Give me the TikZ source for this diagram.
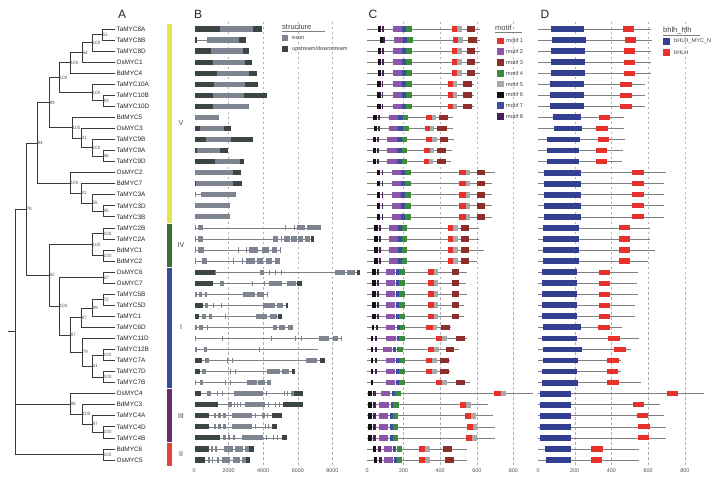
\documentclass[tikz,border=0pt]{standalone}
\usepackage{fontspec}
\setmainfont{Liberation Sans}
\usetikzlibrary{calc}
\definecolor{treeline}{HTML}{3A3A3A}
\definecolor{exongray}{HTML}{7E8590}
\definecolor{utrdark}{HTML}{3B4542}
\definecolor{mot1}{HTML}{E8312B}
\definecolor{mot2}{HTML}{8B56A9}
\definecolor{mot3}{HTML}{8C2E2B}
\definecolor{mot4}{HTML}{3D8B3E}
\definecolor{mot5}{HTML}{A9A9A9}
\definecolor{mot6}{HTML}{121212}
\definecolor{mot7}{HTML}{3C4EA0}
\definecolor{mot8}{HTML}{4A1F5B}
\definecolor{mycn}{HTML}{33408F}
\definecolor{cladeV}{HTML}{E4E649}
\definecolor{cladeIV}{HTML}{3F6C37}
\definecolor{cladeI}{HTML}{3B4B98}
\definecolor{cladeIII}{HTML}{6A2C6B}
\definecolor{cladeII}{HTML}{E2433A}
\newcommand{\rowy}[1]{\pgfmathsetmacro{\ry}{29+(#1-1)*11.05}}
\newcommand{\clade}[5]{%
    \path ($(#3)!0.5!(#4)$) coordinate (#1m);
    \coordinate (#1) at (#2,0 |- #1m);
    \draw[branch] (#3) -- (#1 |- #3) -- (#1 |- #4) -- (#4);
    \node[boot] (#1b) at (#1) {#5};
}
\newcommand{\gene}[4]{%
    \rowy{#1}
    \draw[intron] (#2,\ry) -- (#3,\ry);
    \foreach \ga/\gb/\gt in {#4} {\fill[\gt] (\ga,\ry-2.6) rectangle (\gb,\ry+2.6);}
}
\newcommand{\prot}[4]{%
    \rowy{#1}
    \begin{scope}[shift={(367,\ry)}, xscale=0.183]
        \draw[backbone] (0,0) -- (#2,0);
        \foreach \mk/\ma/\mb in {#3} {\fill[fill=mot\mk] (\ma,-2.8) rectangle (\mb,2.8);}
    \end{scope}
    \begin{scope}[shift={(538,\ry)}, xscale=0.1835]
        \draw[backbone] (0,0) -- (#2,0);
        \foreach \da/\db/\dc/\dd in {#4} {
            \fill[mycn] (\da,-2.9) rectangle (\db,2.9);
            \fill[mot1] (\dc,-2.6) rectangle (\dd,2.6);
        }
    \end{scope}
}
\begin{document}
\begin{tikzpicture}[x=1pt, y=-1pt,
        leaf/.style={anchor=west, inner sep=0.4pt, font=\fontsize{6.4}{7.6}\selectfont, text=black!85},
        boot/.style={anchor=west, inner sep=0.4pt, font=\fontsize{4.7}{5.5}\selectfont, text=black!65},
        branch/.style={treeline, line width=0.7pt},
        panel/.style={font=\fontsize{12}{14}\selectfont, text=black!85},
        numeral/.style={font=\fontsize{7}{8}\selectfont, text=black!75},
        grid line/.style={black!30, line width=0.4pt, dash pattern=on 2.5pt off 2.5pt},
        intron/.style={black!50, line width=0.6pt},
        backbone/.style={black!50, line width=0.6pt},
        ex/.style={fill=exongray},
        ud/.style={fill=utrdark},
        axlabel/.style={font=\fontsize{5.4}{6.2}\selectfont, text=black!70},
        legtitle/.style={anchor=west, inner sep=0pt, font=\fontsize{7.5}{9}\selectfont, text=black!75},
        legtext/.style={anchor=west, inner sep=0pt, font=\fontsize{5.6}{7}\selectfont, text=black!75},
    ]
    \useasboundingbox (0,0) rectangle (725,486);

    % Panel letters
    \node[panel] (labA) at (122,14) {A};
    \node[panel] (labB) at (198,14) {B};
    \node[panel] (labC) at (373,14) {C};
    \node[panel] (labD) at (545,14) {D};

    % Dashed scale lines and axes
    \foreach \k in {1,...,4} {
        \draw[grid line] ({194+\k*34.6},22) -- ({194+\k*34.6},466);
        \draw[grid line] ({367+\k*36.6},22) -- ({367+\k*36.6},466);
        \draw[grid line] ({538+\k*36.7},22) -- ({538+\k*36.7},466);
    }
    \foreach \v [count=\k from 0] in {0,2000,4000,6000,8000}
        \node[axlabel] (bx\k) at ({194+\k*34.6},471) {\v};
    \foreach \v [count=\k from 0] in {0,200,400,600,800} {
        \node[axlabel] (cx\k) at ({367+\k*36.6},471) {\v};
        \node[axlabel] (dx\k) at ({538+\k*36.7},471) {\v};
    }

    % A: leaves
    \foreach \g [count=\i] in {TaMYC8A,TaMYC8B,TaMYC8D,OsMYC1,BdMYC4,TaMYC10A,TaMYC10B,TaMYC10D,
            BdMYC5,OsMYC3,TaMYC9B,TaMYC9A,TaMYC9D,OsMYC2,BdMYC7,TaMYC3A,TaMYC3D,TaMYC3B,
            TaMYC2B,TaMYC2A,BdMYC1,BdMYC2,OsMYC6,OsMYC7,TaMYC5B,TaMYC5D,TaMYC1,TaMYC6D,
            TaMYC11D,TaMYC12B,TaMYC7A,TaMYC7D,TaMYC7B,OsMYC4,BdMYC3,TaMYC4A,TaMYC4D,TaMYC4B,
            BdMYC6,OsMYC5} {
        \rowy{\i}
        \coordinate (l\i) at (115,\ry);
        \node[leaf] (\g) at (116,\ry) {\g};
    }

    % A: clade V
    \clade{c1}{102}{l1}{l2}{51}
    \clade{c2}{92}{c1}{l3}{100}
    \clade{c3}{82}{c2}{l4}{64}
    \clade{c4}{70}{c3}{l5}{100}
    \clade{c5}{103}{l7}{l8}{83}
    \clade{c6}{92}{l6}{c5}{100}
    \clade{c7}{59}{c4}{c6}{100}
    \clade{c8}{103}{l12}{l13}{66}
    \clade{c9}{92}{l11}{c8}{100}
    \clade{c10}{81}{l10}{c9}{41}
    \clade{c11}{72}{l9}{c10}{100}
    \clade{c12}{49}{c7}{c11}{99}
    \clade{c13}{103}{l17}{l18}{95}
    \clade{c14}{92}{l16}{c13}{55}
    \clade{c15}{81}{l15}{c14}{41}
    \clade{c16}{70}{l14}{c15}{100}
    \clade{c17}{37}{c12}{c16}{94}
    % A: clade IV
    \clade{c18}{103}{l19}{l20}{100}
    \clade{c19}{103}{l21}{l22}{100}
    \clade{c20}{92}{c18}{c19}{100}
    % A: clade I
    \clade{c21}{103}{l23}{l24}{67}
    \clade{c22}{103}{l25}{l26}{72}
    \clade{c23}{92}{c22}{l27}{99}
    \clade{c24}{81}{c23}{l28}{97}
    \clade{c25}{103}{l30}{l31}{100}
    \clade{c26}{103}{l32}{l33}{100}
    \clade{c27}{92}{c25}{c26}{61}
    \clade{c28}{82}{l29}{c27}{79}
    \clade{c29}{70}{c24}{c28}{87}
    \clade{c30}{59}{c21}{c29}{100}
    \clade{c31}{49}{c20}{c30}{92}
    \clade{c32}{26}{c17}{c31}{78}
    % A: clades III and II
    \clade{c33}{103}{l37}{l38}{100}
    \clade{c34}{92}{l36}{c33}{97}
    \clade{c35}{82}{l35}{c34}{100}
    \clade{c36}{70}{l34}{c35}{98}
    \clade{c37}{103}{l39}{l40}{100}
    % A: root
    \path ($(c32)!0.5!(c37)$) coordinate (rootm);
    \coordinate (root) at (15,0 |- rootm);
    \draw[branch] (c32) -- (root |- c32) -- (root |- c37) -- (c37);
    \draw[branch] (root |- c36) -- (c36);
    \draw[branch] (root) -- ++(-7,0);

    % A: subfamily bars
    \foreach \col/\ya/\yb/\nm/\yn in {cladeV/24/223/V/123, cladeIV/224/267/IV/245, cladeI/268/388/I/327,
            cladeIII/389/442/III/416, cladeII/443/466/II/454} {
        \fill[\col] (167,\ya) rectangle (172,\yb);
        \node[numeral] (sub\nm) at (181,\yn) {\nm};
    }

    % B: gene structure
    \gene{1}{195}{262}{195/220/ud,220/253/ex,253/262/ud}
    \gene{2}{195}{246}{195/197/ud,207/239/ex,239/246/ud}
    \gene{3}{195}{249}{195/211/ud,211/243/ex,243/249/ud}
    \gene{4}{195}{252}{195/213/ud,213/245/ex,245/252/ud}
    \gene{5}{195}{257}{195/217/ud,217/249/ex,249/257/ud}
    \gene{6}{195}{258}{195/214/ud,214/245/ex,245/258/ud}
    \gene{7}{195}{267}{195/213/ud,213/244/ex,244/267/ud}
    \gene{8}{195}{249}{195/213/ud,213/249/ex}
    \gene{9}{195}{219}{195/219/ex}
    \gene{10}{195}{231}{195/200/ud,200/224/ex,224/231/ud}
    \gene{11}{195}{253}{195/206/ud,206/231/ex,231/253/ud}
    \gene{12}{195}{228}{195/197/ud,197/220/ex,220/228/ud}
    \gene{13}{195}{244}{195/215/ud,215/240/ex,240/244/ud}
    \gene{14}{195}{241}{195/233/ex,233/241/ud}
    \gene{15}{195}{242}{195/196/ud,196/233/ex,233/242/ud}
    \gene{16}{195}{236}{195/196/ex,201/236/ex}
    \gene{17}{195}{230}{195/230/ex}
    \gene{18}{195}{230}{195/230/ex}
    \gene{19}{195}{321}{195/196/ex,198/203/ex,285/286/ex,294/295/ex,297/305/ex,307/321/ex}
    \gene{20}{195}{314}{195/196/ex,198/203/ex,273/278/ex,281/282/ex,284/290/ex,291/297/ex,298/303/ex,305/310/ex,311/314/ud}
    \gene{21}{195}{281}{195/196/ex,198/204/ex,238/239/ex,246/247/ex,249/258/ex,262/269/ex,272/277/ex,280/281/ex}
    \gene{22}{195}{280}{195/196/ex,202/207/ex,233/234/ex,242/243/ex,246/255/ex,257/263/ex,266/272/ex,275/280/ex}
    \gene{23}{195}{360}{195/215/ud,215/216/ex,260/264/ex,269/270/ex,275/276/ex,281/282/ex,335/345/ex,347/355/ex,357/360/ud}
    \gene{24}{195}{302}{195/213/ud,220/224/ex,252/253/ex,264/265/ex,269/282/ex,287/296/ex,297/302/ud}
    \gene{25}{195}{268}{195/197/ex,199/202/ex,205/207/ex,243/255/ex,257/264/ex,267/268/ex}
    \gene{26}{195}{288}{195/203/ud,205/208/ex,213/214/ex,221/222/ex,263/275/ex,277/283/ex,286/288/ud}
    \gene{27}{195}{282}{195/199/ud,202/206/ex,209/212/ex,225/226/ex,256/267/ex,270/277/ex,278/282/ud}
    \gene{28}{195}{293}{195/197/ex,199/203/ex,207/208/ex,273/277/ex,279/285/ex,288/293/ex}
    \gene{29}{195}{342}{195/196/ex,222/223/ex,271/272/ex,295/296/ex,301/302/ex,319/329/ex,333/338/ex,341/342/ex}
    \gene{30}{195}{318}{195/197/ex,204/207/ex,259/260/ex}
    \gene{31}{195}{325}{195/202/ud,205/209/ex,227/228/ex,232/233/ex,306/317/ex,320/325/ud}
    \gene{32}{195}{295}{195/200/ud,202/206/ex,230/231/ex,235/236/ex,267/280/ex,282/289/ex,292/295/ud}
    \gene{33}{195}{271}{195/196/ex,200/203/ex,225/226/ex,230/231/ex,247/257/ex,258/265/ex,267/271/ex}
    \gene{34}{195}{303}{195/201/ud,207/211/ex,217/218/ex,222/223/ex,234/263/ex,266/267/ex,284/285/ex,287/288/ex,291/294/ex,294/303/ud}
    \gene{35}{195}{303}{195/218/ud,228/232/ex,234/235/ex,237/238/ex,240/241/ex,245/265/ex,268/269/ex,275/276/ex,279/280/ex,283/303/ud}
    \gene{36}{195}{282}{195/209/ud,214/216/ex,218/221/ex,223/226/ex,232/252/ex,255/256/ex,262/265/ex,267/268/ex,272/282/ud}
    \gene{37}{195}{277}{195/209/ud,214/216/ex,218/221/ex,223/226/ex,232/252/ex,255/256/ex,265/266/ex,268/269/ex,272/277/ud}
    \gene{38}{195}{287}{195/220/ud,223/226/ex,228/230/ex,233/235/ex,242/263/ex,266/267/ex,273/274/ex,277/278/ex,282/287/ud}
    \gene{39}{195}{254}{195/209/ud,211/213/ex,215/217/ex,224/233/ex,235/243/ex,245/249/ex,249/254/ud}
    \gene{40}{195}{250}{195/205/ud,208/210/ex,212/213/ex,217/219/ex,222/230/ex,233/240/ex,242/246/ex,246/250/ud}

    % B: legend
    \node[legtitle] (strtitle) at (282,27) {structure};
    \draw[black!50, line width=0.4pt] (282,31.5) -- (325,31.5);
    \fill[ex] (282,35) rectangle (288,41);
    \node[legtext] (strexon) at (292,38) {exon};
    \fill[ud] (282,46) rectangle (288,52);
    \node[legtext] (strutr) at (292,49) {upstream/downstream};

    % C and D: motifs and domains
    \prot{1}{615}{6/62/77,8/84/93,2/140/190,7/190/215,4/215/245,1/463/494,5/494/518,3/549/591}{69/251/462/523}
    \prot{2}{620}{6/70/85,8/90/99,2/145/195,7/195/220,4/220/250,1/468/496,5/496/522,3/553/603}{75/262/474/534}
    \prot{3}{615}{6/62/77,8/84/93,2/140/190,7/190/215,4/215/245,1/463/494,5/494/518,3/549/591}{69/256/469/529}
    \prot{4}{615}{6/62/77,8/84/93,2/140/190,7/190/215,4/215/245,1/463/494,5/494/518,3/549/591}{69/256/469/529}
    \prot{5}{615}{6/62/77,8/84/93,2/140/190,7/190/215,4/215/245,1/463/494,5/494/518,3/549/591}{69/256/469/529}
    \prot{6}{582}{6/57/75,8/80/90,2/140/190,7/190/215,4/215/245,1/440/472,5/472/494,3/527/572}{65/251/447/511}
    \prot{7}{582}{6/57/75,8/80/90,2/140/190,7/190/215,4/215/245,1/440/472,5/472/494,3/527/572}{65/251/447/511}
    \prot{8}{582}{6/57/75,8/80/90,2/140/190,7/190/215,4/215/245,1/440/472,5/472/494,3/527/572}{65/251/447/511}
    \prot{9}{470}{6/35/53,8/60/71,2/122/172,7/172/195,4/195/226,1/323/354,5/354/378,3/396/440}{80/234/332/392}
    \prot{10}{470}{6/38/56,8/62/73,2/122/172,7/172/198,4/198/230,1/315/346,5/346/368,3/385/436}{87/238/316/380}
    \prot{11}{475}{6/31/49,8/55/67,2/111/162,7/162/189,4/189/217,1/322/357,5/357/380,3/399/444}{47/229/329/389}
    \prot{12}{462}{6/31/49,8/55/67,2/107/162,7/162/189,4/189/217,1/312/344,5/344/366,3/381/432}{47/224/314/378}
    \prot{13}{458}{6/31/49,8/55/67,2/111/162,7/162/189,4/189/217,1/312/341,5/341/363,3/381/432}{47/224/314/378}
    \prot{14}{700}{6/55/72,8/80/90,2/135/185,7/185/210,4/210/240,1/505/540,5/540/565,3/600/645}{30/235/512/575}
    \prot{15}{685}{6/55/72,8/80/90,2/135/185,7/185/210,4/210/240,1/505/540,5/540/565,3/600/645}{30/235/512/575}
    \prot{16}{685}{6/55/72,8/80/90,2/135/185,7/185/210,4/210/240,1/505/540,5/540/565,3/600/645}{30/235/512/575}
    \prot{17}{685}{6/55/72,8/80/90,2/135/185,7/185/210,4/210/240,1/505/540,5/540/565,3/600/645}{30/235/512/575}
    \prot{18}{685}{6/55/72,8/80/90,2/135/185,7/185/210,4/210/240,1/505/540,5/540/565,3/600/645}{30/235/512/575}
    \prot{19}{610}{6/40/58,8/65/75,2/120/170,7/170/190,4/190/220,1/440/472,5/472/495,3/515/560}{25/225/440/500}
    \prot{20}{610}{6/40/58,8/65/75,2/120/170,7/170/190,4/190/220,1/440/472,5/472/495,3/515/560}{25/225/440/500}
    \prot{21}{640}{6/40/58,8/65/75,2/120/170,7/170/190,4/190/220,1/440/472,5/472/495,3/515/560}{25/225/440/500}
    \prot{22}{600}{6/40/58,8/65/75,2/120/170,7/170/190,4/190/220,1/440/472,5/472/495,3/515/560}{25/225/440/500}
    \prot{23}{545}{6/30/48,8/55/65,2/105/155,7/158/175,4/177/208,1/335/368,5/368/390,3/465/505}{20/215/335/395}
    \prot{24}{540}{6/30/48,8/55/65,2/105/155,7/158/175,4/177/208,1/335/368,5/368/390,3/465/505}{20/215/335/395}
    \prot{25}{545}{6/30/48,8/55/65,2/105/155,7/158/175,4/177/208,1/335/368,5/368/390,3/465/505}{20/215/335/395}
    \prot{26}{530}{6/30/48,8/55/65,2/105/155,7/158/175,4/177/208,1/335/368,5/368/390,3/465/505}{20/215/335/395}
    \prot{27}{530}{6/30/48,8/55/65,2/105/155,7/158/175,4/177/208,1/335/368,5/368/390,3/465/505}{20/215/335/395}
    \prot{28}{458}{6/25/38,8/49/62,2/104/153,7/166/180,4/180/208,1/323/359,5/359/385,3/405/454}{29/233/329/393}
    \prot{29}{549}{6/20/35,8/44/53,2/104/158,7/162/177,4/177/208,1/377/412,5/412/439,3/487/536}{20/211/383/447}
    \prot{30}{505}{6/22/35,8/45/56,2/89/135,7/144/158,4/166/195,1/335/366,5/366/396,3/432/476}{25/238/414/478}
    \prot{31}{454}{6/20/35,8/44/56,2/104/153,7/158/177,4/177/208,1/323/357,5/357/385,3/399/450}{25/216/378/441}
    \prot{32}{454}{6/20/35,8/44/56,2/104/153,7/158/177,4/177/208,1/323/357,5/357/385,3/399/450}{20/211/374/438}
    \prot{33}{563}{6/20/35,2/104/153,7/158/177,4/177/208,1/377/408,5/408/436,3/487/536}{24/216/378/441}
    \prot{34}{906}{6/7/25,8/35/49,2/75/126,7/135/153,4/153/184,1/696/731,5/731/758}{11/178/701/765}
    \prot{35}{663}{6/7/25,8/35/47,2/67/120,7/129/144,4/144/175,1/508/541,5/541/569}{11/178/516/578}
    \prot{36}{687}{6/7/25,8/35/47,2/65/117,7/126/140,4/140/171,1/536/567,5/567/594}{11/178/538/601}
    \prot{37}{700}{6/7/25,8/35/47,2/65/117,7/126/140,4/140/171,1/545/578,5/578/603}{11/178/547/610}
    \prot{38}{700}{6/7/25,8/35/47,2/65/117,7/126/140,4/140/171,1/541/574,5/574/600}{11/178/547/607}
    \prot{39}{549}{6/31/49,8/62/75,2/93/135,7/144/158,4/166/193,1/284/317,5/317/344,3/417/463}{38/178/289/353}
    \prot{40}{549}{6/38/53,8/67/80,2/93/140,7/149/162,4/166/193,1/284/317,5/317/344,3/426/476}{44/178/287/351}

    % C: legend
    \node[legtitle] (mottitle) at (495,28) {motif};
    \draw[black!50, line width=0.4pt] (495,32.5) -- (522,32.5);
    \foreach \k in {1,...,8} {
        \fill[fill=mot\k] (497,{41+(\k-1)*10.8-3.3}) rectangle (503.5,{41+(\k-1)*10.8+3.3});
        \node[legtext] (mot\k lab) at (506,{41+(\k-1)*10.8}) {motif \k};
    }

    % D: legend
    \node[legtitle] (domtitle) at (663,31) {bhlh\_hlh};
    \draw[black!50, line width=0.4pt] (663,35) -- (700,35);
    \fill[mycn] (663,38) rectangle (670,45);
    \node[legtext] (domnlab) at (674,41.5) {bHLH\_MYC\_N};
    \fill[mot1] (663,49) rectangle (670,56);
    \node[legtext] (domhlab) at (674,52.5) {bHLH};
\end{tikzpicture}
\end{document}
